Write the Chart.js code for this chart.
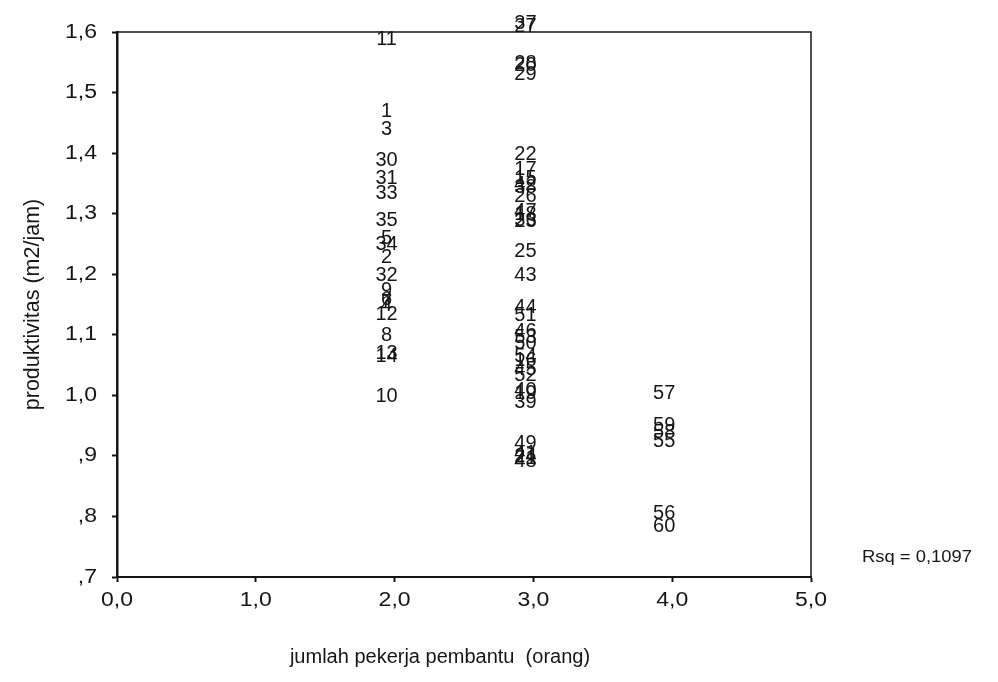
<!DOCTYPE html>
<html>
<head>
<meta charset="utf-8">
<script src="https://cdn.jsdelivr.net/npm/chart.js@4"></script>
<style>
  html, body { margin: 0; padding: 0; background: #fff; }
  #wrap { width: 998px; height: 682px; position: relative; }
</style>
</head>
<body>
<div id="wrap"><canvas id="c"></canvas></div>
<script>
// Case numbers and productivity (m2/jam), grouped by number of helpers
const pekerjaGroups = [2, 3, 4];

const kasus2 = [11, 1, 3, 30, 31, 33, 35, 5, 34, 2, 32, 9, 6, 7, 4, 12, 8, 13, 14, 10];
const prod2  = [1.59, 1.47, 1.44, 1.39, 1.36, 1.335, 1.29, 1.26, 1.25, 1.23, 1.20, 1.175, 1.16, 1.155, 1.15, 1.135, 1.10, 1.07, 1.065, 1.00];

const kasus3 = [37, 27, 28, 20, 29, 22, 17, 15, 42, 38, 26, 18, 47, 36, 23, 25, 43, 44, 51, 46, 53, 50, 54, 16, 45, 52, 40, 19, 39, 49, 41, 24, 21, 48];
const prod3  = [1.615, 1.61, 1.55, 1.547, 1.532, 1.40, 1.375, 1.36, 1.35, 1.345, 1.33, 1.30, 1.305, 1.29, 1.288, 1.24, 1.20, 1.147, 1.133, 1.107, 1.097, 1.088, 1.065, 1.06, 1.045, 1.035, 1.01, 1.005, 0.99, 0.922, 0.905, 0.90, 0.898, 0.893];

const kasus4 = [57, 59, 58, 55, 56, 60];
const prod4  = [1.005, 0.952, 0.94, 0.925, 0.807, 0.785];

const yTicksMin = 0.7, yTicksMax = 1.6;
const xTicksMin = 0, xTicksMax = 5;
const rsqText = 'Rsq = 0,1097';

const groups = [
  { x: pekerjaGroups[0], ids: kasus2, vals: prod2 },
  { x: pekerjaGroups[1], ids: kasus3, vals: prod3 },
  { x: pekerjaGroups[2], ids: kasus4, vals: prod4 }
];

const datasets = groups.map(g => ({
  data: g.vals.map(v => ({ x: g.x, y: v })),
  caseIds: g.ids,
  pointRadius: 0,
  pointHoverRadius: 0,
  showLine: false
}));

const FONT = '"Liberation Sans", Arial, sans-serif';
const INK = '#161616';

function fmtComma(v) {
  let s = Number(v).toFixed(1).replace('.', ',');
  if (s.startsWith('0,') && Math.abs(v) < 1 && v !== 0) s = s.slice(1);
  return s;
}

// text drawn with a slight horizontal stretch, like the plot's tick labels
function wideText(ctx, text, x, y, align, stretch) {
  ctx.save();
  ctx.translate(x, y);
  ctx.scale(stretch, 1);
  ctx.textAlign = align;
  ctx.fillText(text, 0, 0);
  ctx.restore();
}

// Case-number markers, frame, tick labels, axis titles and fit statistic
const decorations = {
  id: 'decorations',
  afterDatasetsDraw(chart) {
    const ctx = chart.ctx;
    const a = chart.chartArea;
    const xs = chart.scales.x, ys = chart.scales.y;
    ctx.save();
    // top and right frame lines
    ctx.strokeStyle = INK;
    ctx.lineWidth = 1.5;
    ctx.beginPath();
    ctx.moveTo(a.left, a.top);
    ctx.lineTo(a.right, a.top);
    ctx.lineTo(a.right, a.bottom);
    ctx.stroke();

    ctx.fillStyle = INK;
    ctx.textBaseline = 'middle';

    // tick labels
    ctx.font = '20px ' + FONT;
    ys.ticks.forEach(t => {
      wideText(ctx, fmtComma(t.value), 97, ys.getPixelForValue(t.value), 'right', 1.15);
    });
    xs.ticks.forEach(t => {
      wideText(ctx, fmtComma(t.value), xs.getPixelForValue(t.value), 600, 'center', 1.15);
    });

    // case numbers used as the point markers
    ctx.font = '20px ' + FONT;
    ctx.textAlign = 'center';
    chart.data.datasets.forEach((ds, di) => {
      const meta = chart.getDatasetMeta(di);
      meta.data.forEach((el, i) => {
        ctx.fillText(String(ds.caseIds[i]), el.x - 8, el.y + 1);
      });
    });

    // axis titles
    ctx.font = '20px ' + FONT;
    ctx.fillText('jumlah pekerja pembantu  (orang)', 440, 657);
    ctx.save();
    ctx.translate(33, (a.top + a.bottom) / 2);
    ctx.rotate(-Math.PI / 2);
    ctx.font = '21.5px ' + FONT;
    ctx.fillText('produktivitas (m2/jam)', 0, 0);
    ctx.restore();

    // fit statistic
    ctx.font = '16px ' + FONT;
    wideText(ctx, rsqText, 862, 558, 'left', 1.15);
    ctx.restore();
  }
};

new Chart(document.getElementById('c'), {
  type: 'scatter',
  data: { datasets },
  options: {
    responsive: true,
    maintainAspectRatio: false,
    animation: false,
    layout: { padding: { top: 32, right: 187, left: 0, bottom: 0 } },
    plugins: { legend: { display: false }, tooltip: { enabled: false } },
    scales: {
      x: {
        type: 'linear',
        min: xTicksMin,
        max: xTicksMax,
        afterFit(scale) { scale.height = 105; },
        ticks: { display: false, stepSize: 1 },
        grid: { drawOnChartArea: false, drawTicks: true, tickLength: 5, tickWidth: 2, tickColor: INK },
        border: { display: true, color: INK, width: 2 }
      },
      y: {
        type: 'linear',
        min: yTicksMin,
        max: yTicksMax,
        afterFit(scale) { scale.width = 117; },
        ticks: { display: false, stepSize: 0.1 },
        grid: { drawOnChartArea: false, drawTicks: true, tickLength: 5, tickWidth: 2, tickColor: INK },
        border: { display: true, color: INK, width: 2.5 }
      }
    }
  },
  plugins: [decorations]
});
</script>
</body>
</html>
